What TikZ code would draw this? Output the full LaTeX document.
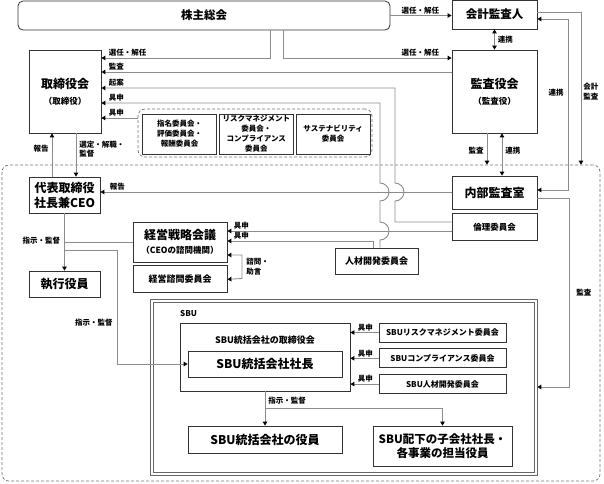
\documentclass[tikz,border=0pt]{standalone}
\usepackage{fontspec}
\setmainfont{Noto Sans CJK JP}
\usetikzlibrary{arrows.meta, positioning}

\begin{document}
\begin{tikzpicture}[x=1pt, y=-1pt]
	\tikzset {>={Triangle[length=4pt, width=4.5pt, color=black]}, node distance=4pt,
		box/.style={draw=black!80, line width=0.8pt, inner sep=1pt, align=center, font=\bfseries\fontsize{12}{16}\selectfont},
		sbox/.style={box, font=\bfseries\fontsize{8.5}{10}\selectfont},
		cbox/.style={box, font=\bfseries\fontsize{7.5}{10}\selectfont, minimum width=74pt, minimum height=40pt},
		conn/.style={draw=black!45, line width=0.9pt},
		lbl/.style={font=\bfseries\fontsize{7.5}{9.5}\selectfont, inner sep=1pt, align=left},
		area/.style={draw=black!55, line width=0.7pt, dash pattern=on 3pt off 2pt, rounded corners=7pt} }
	\useasboundingbox (0,0) rectangle (604,483);

	\node[area, minimum width=598pt, minimum height=316pt] (reg) at (301,323) {};
	\node[box, rounded corners=5pt, minimum width=372pt, minimum height=29pt, font=\bfseries\fontsize{11.5}{14}\selectfont] (sh) at (204,15.5) {株主総会};
	\node[box, minimum width=85pt, minimum height=29pt, font=\bfseries\fontsize{11.5}{14}\selectfont] (ca) at (494.5,14.5) {会計監査人};
	\node[box, minimum width=85pt, minimum height=83pt] (asb) at (494.5,91.5) {監査役会\\{\fontsize{8.5}{10}\selectfont （監査役）}};
	\node[box, minimum width=72pt, minimum height=83pt] (bod) at (65,91.5) {取締役会\\{\fontsize{8.5}{10}\selectfont （取締役）}};

	% committees under the board
	\node[area, minimum width=234pt, minimum height=48pt] (grp) at (255,133) {};
	\node[cbox] (c1) at (179.5,134) {指名委員会・\\評価委員会・\\報酬委員会};
	\node[cbox, right=2pt of c1] (c2) {リスクマネジメント\\委員会・\\コンプライアンス\\委員会};
	\node[cbox, right=2pt of c2] (c3) {サステナビリティ\\委員会};

	% execution side
	\node[box, minimum width=71pt, minimum height=36pt, font=\bfseries\fontsize{12}{15}\selectfont] (ceo) at (64.5,195) {代表取締役\\社長兼CEO};
	\node[box, minimum width=85pt, minimum height=33pt] (ia) at (494.5,192.5) {内部監査室};
	\node[sbox, below=of ia, minimum width=85pt, minimum height=27pt] (eth) {倫理委員会};
	\node[box, minimum width=94pt, minimum height=40pt, font=\bfseries\fontsize{12}{14}\selectfont] (msc) at (180,242) {経営戦略会議\\{\fontsize{8.5}{10}\selectfont （CEOの諮問機関）}};
	\node[sbox, below=3pt of msc, minimum width=94pt, minimum height=27pt, font=\bfseries\fontsize{9}{11}\selectfont] (mac) {経営諮問委員会};
	\node[sbox, minimum width=83pt, minimum height=26pt, font=\bfseries\fontsize{9}{11}\selectfont] (hr) at (376.5,261) {人材開発委員会};
	\node[box, minimum width=71pt, minimum height=26pt] (eo) at (64.5,284) {執行役員};

	% SBU
	\node[draw=black!60, line width=0.7pt, minimum width=387pt, minimum height=176pt] (sbu) at (343.5,387) {};
	\draw[draw=black!60, line width=0.7pt] ([shift={(3.5pt,-3.5pt)}]sbu.north west) rectangle ([shift={(-3.5pt,3.5pt)}]sbu.south east);
	\node[lbl, anchor=west, font=\bfseries\fontsize{8}{10}\selectfont] (sbut) at (179,314) {SBU};
	\node[box, minimum width=170pt, minimum height=68pt, label={[font=\bfseries\fontsize{9}{11}\selectfont, anchor=north, yshift=-10pt]north:SBU統括会社の取締役会}] (sbod) at (265,357) {};
	\node[box, minimum width=154pt, minimum height=26pt] (spres) at (265,364) {SBU統括会社社長};
	\node[sbox, font=\bfseries\fontsize{8}{10}\selectfont, minimum width=127pt, minimum height=19pt] (sc1) at (442.5,332.5) {SBUリスクマネジメント委員会};
	\node[sbox, font=\bfseries\fontsize{8}{10}\selectfont, minimum width=127pt, minimum height=19pt, below=6pt of sc1] (sc2) {SBUコンプライアンス委員会};
	\node[sbox, font=\bfseries\fontsize{8}{10}\selectfont, minimum width=127pt, minimum height=19pt, below=6pt of sc2] (sc3) {SBU人材開発委員会};
	\node[box, minimum width=154pt, minimum height=27pt] (soff) at (265,439.5) {SBU統括会社の役員};
	\node[box, minimum width=139pt, minimum height=40pt, font=\bfseries\fontsize{11.5}{14}\selectfont] (ssub) at (442.5,446) {SBU配下の子会社社長・\\各事業の担当役員};

	% top level
	\draw[conn,->] (sh.east) -- (sh.east -| ca.west) node[lbl, anchor=south east, xshift=-11pt] {選任・解任};
	\draw[conn,->] (sh.south -| 270,0) |- (bod.east |- 0,58) node[lbl, anchor=south west, xshift=6pt] {選任・解任};
	\draw[conn,->] (sh.south -| 283,0) |- (asb.west |- 0,58) node[lbl, anchor=south east, xshift=-11pt] {選任・解任};
	\draw[conn,<->] (ca.south) -- node[lbl, anchor=west, xshift=2pt] {連携} (asb.north);
	\draw[conn,->] (asb.west |- 0,72) -- (bod.east |- 0,72) node[lbl, anchor=south west, xshift=6pt] {監査};
	\draw[conn,->] (eth.west |- 0,222) -- (395,222) -- (395,201) arc[start angle=-90, end angle=90, radius=9pt] -- (395,88) -- (bod.east |- 0,88) node[lbl, anchor=south west, xshift=6pt] {起案};
	\draw[conn,->] (hr.north -| 380,0) -- (380,240) arc[start angle=-90, end angle=90, radius=9pt] -- (380,201) arc[start angle=-90, end angle=90, radius=9pt] -- (380,103) -- (bod.east |- 0,103) node[lbl, anchor=south west, xshift=6pt] {具申};
	\draw[conn,->] (grp.west |- 0,118) -- (bod.east |- 0,118) node[lbl, anchor=south west, xshift=6pt] {具申};
	\draw[conn,->] (ceo.north -| 52,0) -- node[lbl, anchor=east, pos=0.65, xshift=-2pt] {報告} (bod.south -| 52,0);
	\draw[conn,->] (bod.south -| 76,0) -- node[lbl, anchor=west, pos=0.36, xshift=2pt] {選定・解職・\\監督} (ceo.north -| 76,0);

	% audit lines
	\draw[conn,->] (ia.west |- 0,192) -- (ceo.east |- 0,192) node[lbl, anchor=south west, xshift=8pt] {報告};
	\draw[conn,->] (asb.south -| 487,0) -- node[lbl, anchor=east, pos=0.56, xshift=-2pt] {監査} (reg.north -| 487,0);
	\draw[conn,<->] (asb.south -| 502,0) -- node[lbl, anchor=west, pos=0.42, xshift=2pt] {連携} (ia.north -| 502,0);
	\draw[conn,<->] (ca.east |- 0,19) -- (568,19) -- node[lbl, anchor=east, pos=0.43, xshift=-3pt] {連携} (568,190) -- (ia.east |- 0,190);
	\draw[conn,->] (ca.east |- 0,12) -- (581,12) -- node[lbl, anchor=west, pos=0.52, xshift=1pt] {会計\\監査} (reg.north -| 581,0);
	\draw[conn,->] (ia.east |- 0,198) -- (569,198) -- node[lbl, anchor=west, xshift=6pt] {監査} (569,387) -- (sbu.east |- 0,387);

	% CEO lines
	\draw[conn,->] (ceo.south) -- node[lbl, anchor=east, pos=0.48, xshift=-3pt] {指示・監督} (eo.north);
	\draw[conn] (ceo.south |- msc.west) -- (msc.west);
	\draw[conn,->] (ceo.south |- 0,250) -- (117,250) -- node[lbl, anchor=east, pos=0.64, xshift=-3pt] {指示・監督} (117,364) -- (spres.west);
	\draw[conn,->] (eth.west |- 0,231) -- (msc.east |- 0,231) node[lbl, anchor=south west, xshift=5pt] {具申};
	\draw[conn,->] (hr.north -| 373,0) |- (msc.east |- 0,241) node[lbl, anchor=south west, xshift=5pt] {具申};
	\draw[conn,<->] (msc.east |- 0,255) -- (242,255) -- node[lbl, anchor=west, xshift=3pt] {諮問・\\助言} (242,278.5) -- (mac.east);

	% inside SBU
	\draw[conn,->] (sc1.west) -- (sc1.west -| sbod.east) node[lbl, anchor=south west, xshift=6pt] {具申};
	\draw[conn,->] (sc2.west) -- (sc2.west -| sbod.east) node[lbl, anchor=south west, xshift=6pt] {具申};
	\draw[conn,->] (sc3.west) -- (sc3.west -| sbod.east) node[lbl, anchor=south west, xshift=6pt] {具申};
	\draw[conn,->] (sbod.south -| soff.north) -- node[lbl, anchor=west, pos=0.26, xshift=2pt] {指示・監督} (soff.north);
	\draw[conn,->] (sbod.south |- 0,408) -| (ssub.north);
\end{tikzpicture}
\end{document}
